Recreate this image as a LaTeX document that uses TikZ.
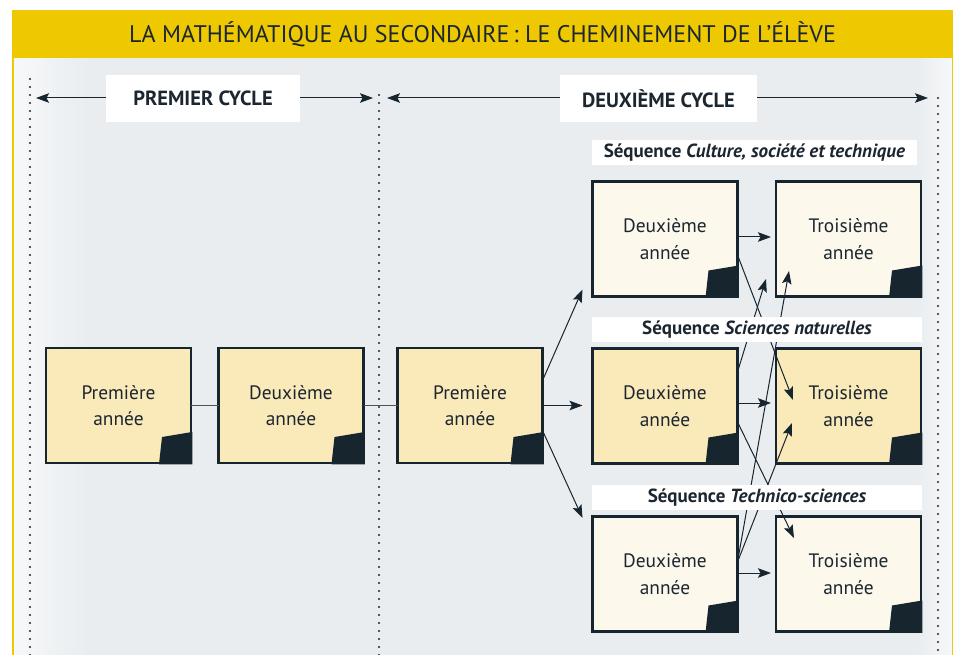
\documentclass[tikz,border=0pt]{standalone}
\usepackage{fontspec}
\setmainfont{PT Sans}
\usetikzlibrary{arrows.meta,calc}
\definecolor{bandY}{RGB}{238,200,0}
\definecolor{panL}{RGB}{247,248,249}
\definecolor{panM}{RGB}{233,237,240}
\definecolor{boxLight}{RGB}{253,248,236}
\definecolor{boxMid}{RGB}{250,233,185}
\definecolor{inkD}{RGB}{23,37,47}
\definecolor{txt}{RGB}{28,38,48}
\definecolor{linkG}{RGB}{70,83,94}
\pgfdeclarehorizontalshading{panelsh}{100bp}{color(0bp)=(panL); color(25bp)=(panL); color(29bp)=(panM); color(73bp)=(panM); color(75bp)=(panL); color(100bp)=(panL)}
\tikzset{
  yrbox/.style={draw=inkD, line width=2.5pt, minimum width=145pt, minimum height=115pt,
    inner sep=0pt, outer sep=0pt, align=center, text=txt, font=\fontsize{19.4}{26.5}\selectfont},
  midfill/.style={yrbox, fill=boxMid},
  lightfill/.style={yrbox, fill=boxLight},
  cyclebox/.style={fill=white, minimum height=47pt, inner sep=0pt, outer sep=0pt, text=txt,
    font=\bfseries\fontsize{20.5}{24}\selectfont},
  seqlabel/.style={fill=white, minimum height=25pt, inner sep=0pt, outer sep=0pt, text=txt,
    font=\bfseries\fontsize{19}{22}\selectfont},
  arr/.style={draw=inkD, line width=1pt, -{Stealth[length=13pt,width=9.5pt,inset=2.5pt]}},
  link/.style={draw=linkG, line width=1.3pt},
  dotline/.style={draw=inkD, line width=2.3pt, line cap=round, dash pattern=on 0pt off 8pt}
}
\begin{document}
\begin{tikzpicture}[x=1pt,y=-1pt]
\useasboundingbox (0,0) rectangle (956,655);
\fill[white] (0,0) rectangle (956,655);
\shade[shading=panelsh] (12,58) rectangle (953,655);
\draw[bandY, line width=1.5pt] (12.75,58) -- (12.75,655) (952.25,58) -- (952.25,655);
\fill[bandY] (12,10) rectangle (953,58);
\node[text=txt, font=\fontsize{24}{28}\selectfont, inner sep=0pt] (ttl) at (482.5,34)
  {LA MATHÉMATIQUE AU SECONDAIRE\,: LE CHEMINEMENT DE L’ÉLÈVE};

% dotted cycle separators
\draw[dotline] (30,79) -- (30,655);
\draw[dotline] (379,95) -- (379,655);
\draw[dotline] (938,98) -- (938,655);

% cycle headers
\node[cyclebox, minimum width=194pt] (c1) at (203,98.5) {PREMIER CYCLE};
\node[cyclebox, minimum width=197pt] (c2) at (658.5,98.5) {DEUXIÈME CYCLE};
\coordinate (c1L) at (36,98);
\coordinate (c1R) at (373,98);
\coordinate (c2L) at (387,98);
\coordinate (c2R) at (928,98);
\draw[arr] (c1.west |- c1L) -- (c1L);
\draw[arr] (c1.east |- c1R) -- (c1R);
\draw[arr] (c2.west |- c2L) -- (c2L);
\draw[arr] (c2.east |- c2R) -- (c2R);

% boxes
\node[midfill] (p1) at (118.5,405.5) {Première\\année};
\node[midfill] (d1) at (291,405.5) {Deuxième\\année};
\node[midfill] (p2) at (470,405.5) {Première\\année};
\node[lightfill] (dA) at (665,239) {Deuxième\\année};
\node[lightfill] (tA) at (848.5,239) {Troisième\\année};
\node[midfill] (dB) at (665,406) {Deuxième\\année};
\node[midfill] (tB) at (848.5,406) {Troisième\\année};
\node[lightfill] (dC) at (665,574) {Deuxième\\année};
\node[lightfill] (tC) at (848.5,574) {Troisième\\année};

\foreach \n in {p1,d1,p2,dA,tA,dB,tB,dC,tC}{
  \fill[inkD] ($(\n.south east)+(-29,-26)$) -- ($(\n.south east)+(1.25,-31)$)
    -- ($(\n.south east)+(1.25,1.25)$) -- ($(\n.south east)+(-32,1.25)$) -- cycle;
}

% first-cycle links
\draw[link] (p1.east) -- (d1.west);
\draw[link] (d1.east) -- (p2.west);

% branching from secondary 3
\draw[arr] ($(p2.east)+(0,-25)$) -- ($(dA.south west)+(-10,-7)$);
\draw[arr] (p2.east) -- ($(dB.west)+(-10,-0.5)$);
\draw[arr] ($(p2.east)+(0,25)$) -- ($(dC.north west)+(-10,1.5)$);

% passages towards third year
\draw[arr] ($(dA.east)+(0,-2)$) -- ($(tA.west)+(-5,-2)$);
\draw[arr] ($(dA.east)+(0,16)$) -- ($(tB.west)+(17,-6)$);
\draw[arr] ($(dB.east)+(0,-34)$) -- ($(tA.south west)+(-10,-17.5)$);
\draw[arr] ($(dB.east)+(0,-3)$) -- ($(tB.west)+(-5,-3)$);
\draw[arr] ($(dB.east)+(0,16)$) -- ($(tC.west)+(18,-36)$);
\draw[arr] ($(dC.east)+(0,-12)$) -- ($(tA.south west)+(13,-25.5)$);
\draw[arr] ($(dC.east)+(0,-12)$) -- ($(tB.west)+(16,17)$);
\draw[arr] ($(dC.east)+(0,-1)$) -- ($(tC.west)+(-5,-1)$);

% sequence labels
\node[seqlabel, minimum width=325pt] (sA) at (754.5,152.5) {Séquence \textit{Culture, société et technique}};
\node[seqlabel, minimum width=330pt] (sB) at (757,329.5) {Séquence \textit{Sciences naturelles}};
\node[seqlabel, minimum width=330pt] (sC) at (757,497.5) {Séquence \textit{Technico-sciences}};
\end{tikzpicture}
\end{document}
